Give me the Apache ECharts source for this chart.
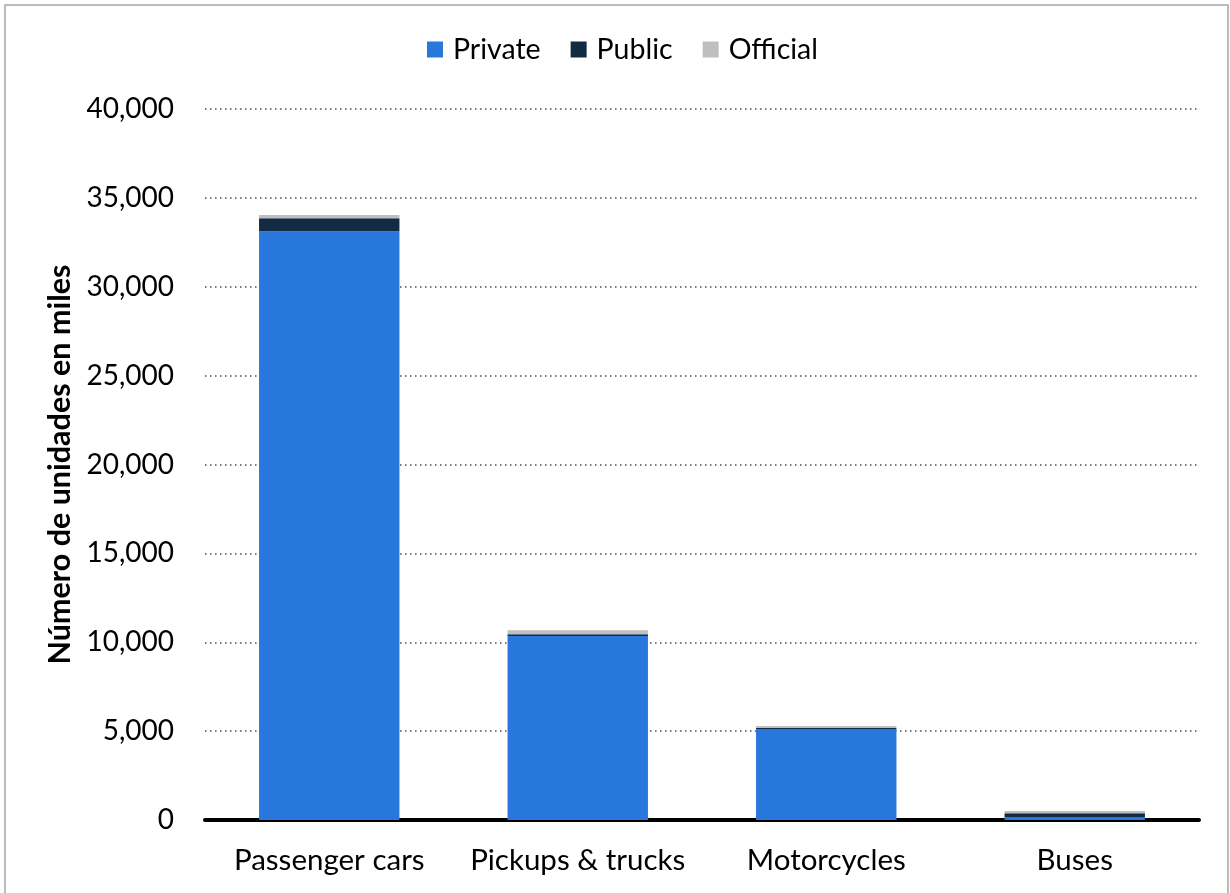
<!DOCTYPE html>
<html><head><meta charset="utf-8">
<script src="https://cdn.jsdelivr.net/npm/echarts@6/dist/echarts.min.js"></script>
<style>html,body{margin:0;padding:0;background:#fff}#c{width:1230px;height:893px}</style>
</head><body><div id="c"></div>
<script>
const categories = ['Passenger cars', 'Pickups & trucks', 'Motorcycles', 'Buses'];
const privateVals = [33120, 10350, 5120, 170];
const publicVals = [730, 100, 50, 210];
const officialVals = [190, 225, 120, 130];
const yTicks = [0, 5000, 10000, 15000, 20000, 25000, 30000, 35000, 40000];
const yTitle = 'Número de unidades en miles';

const font = 'Lato, "Open Sans", sans-serif';
const chart = echarts.init(document.getElementById('c'), null, {renderer: 'canvas'});
const mk = (name, data, color) => ({
  name, type: 'bar', stack: 'total', data, barWidth: '56.5%',
  itemStyle: {color}, emphasis: {disabled: true}
});
chart.setOption({
  animation: false,
  textStyle: {fontFamily: font},
  graphic: [{type: 'rect', shape: {x: 5, y: 5, width: 1223, height: 900},
    style: {fill: 'none', stroke: '#a6a6a6', lineWidth: 1.5}, silent: true}],
  legend: {
    top: 30, left: 422, itemWidth: 16, itemHeight: 16, itemGap: 30,
    icon: 'rect',
    textStyle: {fontSize: 28.5, color: '#000', fontFamily: font, padding: [0, 0, 0, 5]},
    data: ['Private', 'Public', 'Official']
  },
  grid: {left: 205, right: 31, top: 109, bottom: 73, containLabel: false},
  xAxis: {
    type: 'category', data: categories,
    axisLine: {show: true, onZero: false, lineStyle: {color: '#000', width: 4}},
    axisTick: {show: false},
    axisLabel: {fontSize: 29.5, color: '#000', margin: 25, interval: 0, fontFamily: font}
  },
  yAxis: {
    type: 'value', min: yTicks[0], max: yTicks[yTicks.length - 1], interval: 5000,
    name: yTitle, nameLocation: 'middle', nameGap: 117, nameRotate: 90,
    nameTextStyle: {fontSize: 30.5, fontWeight: 'bold', color: '#000', fontFamily: font},
    axisLine: {show: false}, axisTick: {show: false},
    axisLabel: {fontSize: 28, color: '#000', margin: 31, fontFamily: font,
      formatter: v => v.toLocaleString('en-US')},
    splitLine: {show: true, lineStyle: {color: '#4d4d4d', width: 1.5, type: [1.5, 3.5]}}
  },
  series: [
    mk('Private', privateVals, '#2877dd'),
    mk('Public', publicVals, '#132a43'),
    mk('Official', officialVals, '#bfbfbf')
  ]
});
</script></body></html>
